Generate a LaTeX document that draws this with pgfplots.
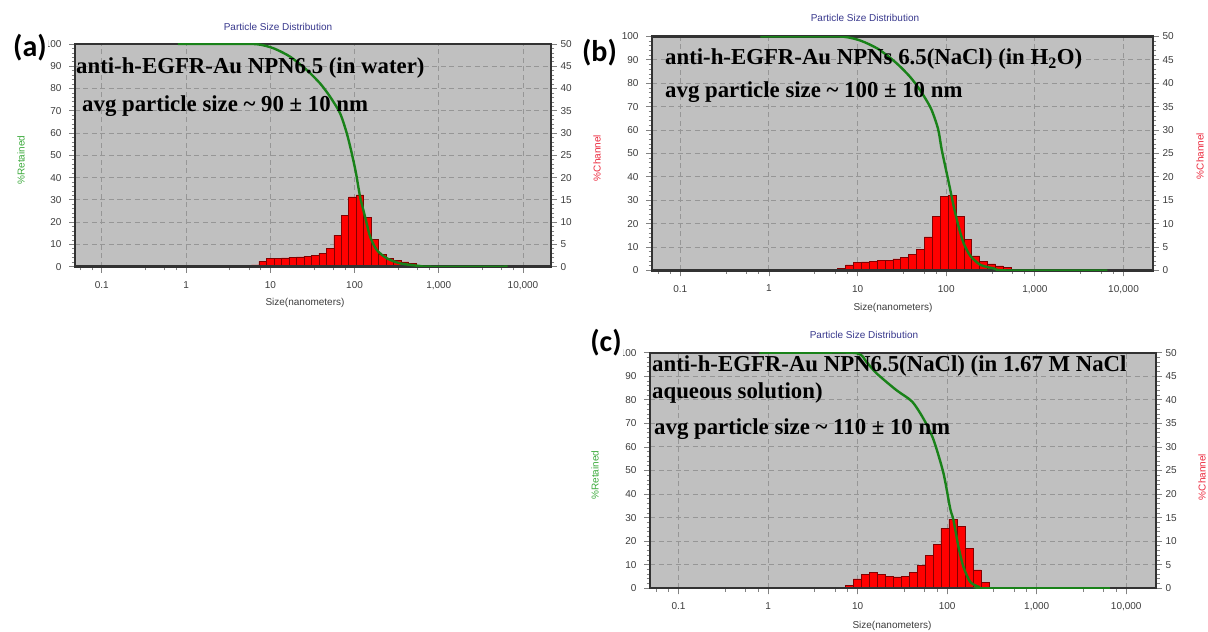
\documentclass[border=0pt]{standalone}
\usepackage{fontspec}
\setmainfont{Liberation Sans}
\newfontfamily\annotfont{Liberation Serif}
\newfontfamily\panelfont{Carlito}
\usepackage{pgfplots}
\usepackage{pgfplotstable}
\pgfplotsset{compat=1.18}
\pgfkeys{/pgf/number format/assume math mode=true}

\definecolor{plotbg}{RGB}{192,192,192}
\definecolor{gridgray}{RGB}{150,150,150}
\definecolor{framecol}{RGB}{50,50,50}
\definecolor{tickgray}{RGB}{130,130,130}
\definecolor{labelgray}{RGB}{60,60,60}
\definecolor{titleblue}{RGB}{55,55,140}
\definecolor{curvegreen}{RGB}{25,130,25}
\definecolor{barred}{RGB}{255,0,0}
\definecolor{bardark}{RGB}{130,0,0}
\definecolor{retgreen}{RGB}{60,170,60}
\definecolor{chanred}{RGB}{235,40,60}

% channel lower edges (nm) and % in channel; last row closes the last channel
\pgfplotstableread{
edge pct
0.7699 0.2
0.9447 0.2
1.1592 0.2
1.4226 0.2
1.7458 0.2
2.1425 0.2
2.6291 0.2
3.2263 0.2
3.9592 0.2
4.8585 0.2
5.9621 0.4
7.3164 1.2
8.9784 1.8
11.018 1.9
13.521 2.0
16.592 2.1
20.361 2.2
24.986 2.3
30.662 2.5
37.627 3.0
46.174 4.1
56.663 7.1
69.535 11.6
85.33 15.7
104.71 16.1
128.50 11.0
157.69 6.1
193.51 2.8
237.47 1.8
291.41 1.4
357.61 1.1
438.85 0.8
538.54 0
}\barsA

\pgfplotstableread{
edge pct
0.7699 0.2
0.9447 0.2
1.1592 0.2
1.4226 0.2
1.7458 0.2
2.1425 0.2
2.6291 0.2
3.2263 0.2
3.9592 0.2
4.8585 0.2
5.9621 0.5
7.3164 1.2
8.9784 1.7
11.018 1.85
13.521 1.95
16.592 2.1
20.361 2.24
24.986 2.5
30.662 2.8
37.627 3.46
46.174 4.5
56.663 7.2
69.535 11.5
85.33 15.8
104.71 16.0
128.50 11.5
157.69 6.7
193.51 3.1
237.47 2.0
291.41 1.4
357.61 1.0
438.85 0.6
538.54 0
}\barsB

\pgfplotstableread{
edge pct
0.7699 0.2
0.9447 0.2
1.1592 0.2
1.4226 0.2
1.7458 0.2
2.1425 0.2
2.6291 0.2
3.2263 0.2
3.9592 0.2
4.8585 0.2
5.9621 0.2
7.3164 0.7
8.9784 2.0
11.018 3.0
13.521 3.3
16.592 3.0
20.361 2.6
24.986 2.4
30.662 2.6
37.627 3.3
46.174 4.9
56.663 7.0
69.535 9.4
85.33 12.7
104.71 14.7
128.50 13.2
157.69 8.4
193.51 3.9
237.47 1.2
291.41 0
}\barsC

% cumulative % retained (size in nm)
\pgfplotstableread{
size ret
0.8 100
3.16 100
6.92 99.9
10.86 98.1
17.18 94.3
27.10 88.3
38.99 82.3
51.29 76.3
67.30 68.9
80.91 59.9
92.68 50.9
104.2 41.9
116.4 31.4
133.4 22.4
153.1 13.5
183.7 7.5
241.5 3.8
346.7 1.5
602.6 0.3
794.3 0
6553.6 0
}\retA

\pgfplotstableread{
size ret
0.8 100
3.16 100
6.92 99.9
10.86 98.2
17.18 94.6
27.10 88.8
38.99 82.8
51.29 76.8
67.30 69.2
80.91 60.5
89.13 51.5
107.15 37.3
121.62 27.3
138.04 18.7
157.40 11.6
187.5 6.2
243.2 2.4
343.6 0.9
489.8 0
6553.6 0
}\retB

\pgfplotstableread{
size ret
0.8 100
3.16 100
9.77 99.8
12.6 96
16.2 91.3
26.9 84.2
40.7 79.2
55.5 71.4
70.5 63
91 48.8
107.9 34
117.5 29
133.7 17.7
151.7 9.2
180.3 2.8
222.8 0.7
269.2 0
6553.6 0
}\retC

% common look of every size-distribution axis
\pgfplotsset{
  every axis/.append style={
    scale only axis, anchor=south west,
    xmode=log, xmin=0.048, xmax=21500,
    xtick={0.1,1,10,100,1000,10000},
    xticklabels={0.1,1,10,100,{1,000},{10,000}},
    minor xtick={0.033,0.056,0.077,0.33,0.56,0.77,3.3,5.6,7.7,33,56,77,330,560,770,3300,5600,7700},
    xtick pos=left,
    tick align=outside,
    major tick length=6pt, minor tick length=3.5pt,
    tick style={draw=tickgray, line width=0.8pt},
    axis line style={draw=framecol, line width=2.2pt},
    ticklabel style={font=\fontsize{10}{12}\selectfont, text=labelgray},
    xticklabel style={yshift=-5pt},
  },
}

\begin{document}
\begin{tikzpicture}
\useasboundingbox (0,0) rectangle (1208pt,632pt);

% ---------- (a) ----------
\begin{axis}[at={(75pt,365.3pt)}, width=476pt, height=222.7pt,
    ymin=0, ymax=50, ytick={0,5,...,50}, minor y tick num=4,
    ytick pos=right, yticklabel pos=right, xticklabels={},
    axis background/.style={fill=plotbg},
    xmajorgrids, ymajorgrids,
    major grid style={draw=gridgray, dash pattern=on 5pt off 3.5pt, line width=0.9pt}]
  \addplot[ybar interval, fill=barred, draw=bardark, line width=0.5pt]
    table[x=edge, y=pct] {\barsA};
\end{axis}
\begin{axis}[at={(75pt,365.3pt)}, width=476pt, height=222.7pt,
    ymin=0, ymax=100, ytick={0,10,...,100}, minor y tick num=4, ytick pos=left,
    yticklabel style={xshift=-4pt}]
  \draw[framecol, line width=3.2pt] (rel axis cs:0,0) -- (rel axis cs:1,0);
  \addplot[curvegreen, line width=2.4pt, smooth, tension=0.45]
    table[x=size, y=ret] {\retA};
\end{axis}

% ---------- (b) ----------
\begin{axis}[at={(652pt,361.5pt)}, width=501pt, height=234pt,
    ymin=0, ymax=50, ytick={0,5,...,50}, minor y tick num=4,
    ytick pos=right, yticklabel pos=right, xticklabels={},
    axis background/.style={fill=plotbg},
    xmajorgrids, ymajorgrids,
    major grid style={draw=gridgray, dash pattern=on 5pt off 3.5pt, line width=0.9pt}]
  \addplot[ybar interval, fill=barred, draw=bardark, line width=0.5pt]
    table[x=edge, y=pct] {\barsB};
\end{axis}
\begin{axis}[at={(652pt,361.5pt)}, width=501pt, height=234pt,
    ymin=0, ymax=100, ytick={0,10,...,100}, minor y tick num=4, ytick pos=left,
    yticklabel style={xshift=-4pt}]
  \draw[framecol, line width=3.2pt] (rel axis cs:0,0) -- (rel axis cs:1,0);
  \addplot[curvegreen, line width=2.4pt, smooth, tension=0.45]
    table[x=size, y=ret] {\retB};
\end{axis}

% ---------- (c) ----------
\begin{axis}[at={(650pt,43.7pt)}, width=506pt, height=235.6pt,
    ymin=0, ymax=50, ytick={0,5,...,50}, minor y tick num=4,
    ytick pos=right, yticklabel pos=right, xticklabels={},
    axis background/.style={fill=plotbg},
    xmajorgrids, ymajorgrids,
    major grid style={draw=gridgray, dash pattern=on 5pt off 3.5pt, line width=0.9pt}]
  \addplot[ybar interval, fill=barred, draw=bardark, line width=0.5pt]
    table[x=edge, y=pct] {\barsC};
\end{axis}
\begin{axis}[at={(650pt,43.7pt)}, width=506pt, height=235.6pt,
    ymin=0, ymax=100, ytick={0,10,...,100}, minor y tick num=4, ytick pos=left,
    yticklabel style={xshift=-4pt}]
  \draw[framecol, line width=3.2pt] (rel axis cs:0,0) -- (rel axis cs:1,0);
  \addplot[curvegreen, line width=2.4pt, smooth, tension=0.45]
    table[x=size, y=ret] {\retC};
\end{axis}

% titles and axis labels
\tikzset{lbl/.style={font=\fontsize{10}{12}\selectfont, inner sep=0pt}}
\node[lbl, text=titleblue] at (278pt,605pt) {Particle Size Distribution};
\node[lbl, text=titleblue] at (865pt,614pt) {Particle Size Distribution};
\node[lbl, text=titleblue] at (864pt,297pt) {Particle Size Distribution};
\node[lbl, text=labelgray] at (305pt,329pt) {Size(nanometers)};
\node[lbl, text=labelgray] at (893pt,324pt) {Size(nanometers)};
\node[lbl, text=labelgray] at (892pt,6pt) {Size(nanometers)};
\node[lbl, text=retgreen, rotate=90] at (21pt,472pt) {\%Retained};
\node[lbl, text=chanred, rotate=90] at (597pt,474pt) {\%Channel};
\node[lbl, text=chanred, rotate=90] at (1200pt,476pt) {\%Channel};
\node[lbl, text=retgreen, rotate=90] at (595pt,157pt) {\%Retained};
\node[lbl, text=chanred, rotate=90] at (1202pt,155pt) {\%Channel};

% sample annotations
\tikzset{annot/.style={anchor=base west, inner sep=0pt,
  font=\annotfont\bfseries\fontsize{22.8}{26}\selectfont}}
\node[annot] at (76pt,558.7pt) {anti-h-EGFR-Au NPN6.5 (in water)};
\node[annot] at (82pt,520pt) {avg particle size \textasciitilde\ 90 ± 10 nm};
\node[annot] at (665pt,567pt) {anti-h-EGFR-Au NPNs 6.5(NaCl) (in H\textsubscript{2}O)};
\node[annot] at (665pt,534pt) {avg particle size \textasciitilde\ 100 ± 10 nm};
\node[annot] at (652pt,260.3pt) {anti-h-EGFR-Au NPN6.5(NaCl) (in 1.67 M NaCl};
\node[annot] at (652pt,233pt) {aqueous solution)};
\node[annot] at (654pt,197pt) {avg particle size \textasciitilde\ 110 ± 10 nm};

% panel letters
\tikzset{letter/.style={font=\panelfont\bfseries\fontsize{30}{34}\selectfont,
  fill=white, inner sep=1pt}}
\node[letter] at (30pt,584.5pt) {(a)};
\node[letter] at (599.5pt,579.5pt) {(b)};
\node[letter] at (606pt,289pt) {(c)};
\end{tikzpicture}
\end{document}
